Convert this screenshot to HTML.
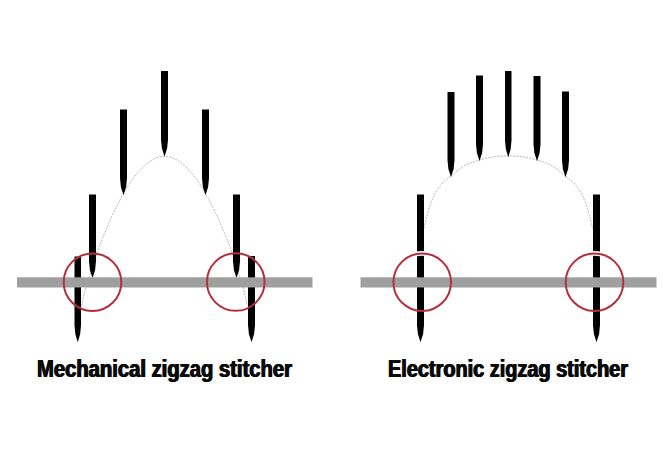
<!DOCTYPE html>
<html><head><meta charset="utf-8"><style>
html,body{margin:0;padding:0;background:#fff;}
body{width:672px;height:450px;position:relative;overflow:hidden;}
.t{position:absolute;font-family:"Liberation Sans",sans-serif;font-weight:bold;color:#0a0a0a;text-shadow:0.7px 0 0 #0a0a0a,-0.7px 0 0 #0a0a0a;white-space:nowrap;transform-origin:0 0;line-height:1;}
</style></head><body>
<svg width="672" height="450" viewBox="0 0 672 450" style="position:absolute;left:0;top:0">
<g fill="none" stroke="#afafaf" stroke-width="0.9" stroke-dasharray="2 1.2">
<path d="M81.70,305.60C82.42,302.55 83.37,296.35 86.00,287.30C88.63,278.25 94.75,259.48 97.50,251.30C100.25,243.12 100.83,242.37 102.50,238.20C104.17,234.03 105.83,230.22 107.50,226.30C109.17,222.38 109.83,220.15 112.50,214.70C115.17,209.25 120.33,199.27 123.50,193.60C126.67,187.93 128.83,184.52 131.50,180.70C134.17,176.88 137.33,173.20 139.50,170.70C141.67,168.20 142.67,167.32 144.50,165.70C146.33,164.08 148.50,162.31 150.50,161.00C152.50,159.69 154.17,158.63 156.50,157.85C158.83,157.07 161.83,156.30 164.50,156.30C167.17,156.30 170.17,157.07 172.50,157.85C174.83,158.63 176.50,159.69 178.50,161.00C180.50,162.31 182.67,164.08 184.50,165.70C186.33,167.32 187.33,168.20 189.50,170.70C191.67,173.20 194.83,176.88 197.50,180.70C200.17,184.52 202.33,187.93 205.50,193.60C208.67,199.27 213.83,209.25 216.50,214.70C219.17,220.15 219.83,222.38 221.50,226.30C223.17,230.22 224.83,234.03 226.50,238.20C228.17,242.37 228.75,243.12 231.50,251.30C234.25,259.48 240.37,278.25 243.00,287.30C245.63,296.35 246.58,302.55 247.30,305.60"/><path d="M423.90,228.20C424.45,226.02 425.86,219.76 427.20,215.10C428.54,210.44 429.86,205.05 431.95,200.25C434.04,195.45 436.55,190.36 439.75,186.30C442.95,182.24 446.92,179.40 451.15,175.90C455.38,172.40 460.40,167.96 465.15,165.30C469.90,162.64 474.80,161.37 479.65,159.95C484.50,158.53 489.48,157.48 494.25,156.80C499.02,156.12 503.58,155.90 508.25,155.90C512.92,155.90 517.48,156.12 522.25,156.80C527.02,157.48 532.00,158.53 536.85,159.95C541.70,161.37 546.60,162.64 551.35,165.30C556.10,167.96 561.12,172.40 565.35,175.90C569.58,179.40 573.55,182.24 576.75,186.30C579.95,190.36 582.46,195.45 584.55,200.25C586.64,205.05 587.96,210.44 589.30,215.10C590.64,219.76 592.05,226.02 592.60,228.20"/></g>
<g fill="#000">
<path d="M74.50,256.50L81.00,256.50L81.00,325.20Q81.00,333.70 77.75,342.20Q74.50,333.70 74.50,325.20Z"/>
<path d="M89.00,194.50L96.00,194.50L96.00,261.20Q96.00,269.70 92.50,278.20Q89.00,269.70 89.00,261.20Z"/>
<path d="M120.00,109.50L127.00,109.50L127.00,178.20Q127.00,186.70 123.50,195.20Q120.00,186.70 120.00,178.20Z"/>
<path d="M161.00,71.00L168.00,71.00L168.00,139.70Q168.00,148.20 164.50,156.70Q161.00,148.20 161.00,139.70Z"/>
<path d="M202.00,109.50L209.00,109.50L209.00,178.20Q209.00,186.70 205.50,195.20Q202.00,186.70 202.00,178.20Z"/>
<path d="M233.00,194.50L240.00,194.50L240.00,261.20Q240.00,269.70 236.50,278.20Q233.00,269.70 233.00,261.20Z"/>
<path d="M248.00,256.00L255.00,256.00L255.00,325.20Q255.00,333.70 251.50,342.20Q248.00,333.70 248.00,325.20Z"/>
<path d="M417.00,194.50L424.00,194.50L424.00,325.20Q424.00,333.70 420.50,342.20Q417.00,333.70 417.00,325.20Z"/>
<path d="M447.50,92.00L454.50,92.00L454.50,160.20Q454.50,168.70 451.00,177.20Q447.50,168.70 447.50,160.20Z"/>
<path d="M476.00,75.50L483.00,75.50L483.00,144.20Q483.00,152.70 479.50,161.20Q476.00,152.70 476.00,144.20Z"/>
<path d="M505.00,71.00L511.50,71.00L511.50,140.20Q511.50,148.70 508.25,157.20Q505.00,148.70 505.00,140.20Z"/>
<path d="M533.50,76.00L540.50,76.00L540.50,144.20Q540.50,152.70 537.00,161.20Q533.50,152.70 533.50,144.20Z"/>
<path d="M562.00,91.50L569.00,91.50L569.00,160.20Q569.00,168.70 565.50,177.20Q562.00,168.70 562.00,160.20Z"/>
<path d="M593.00,194.50L600.00,194.50L600.00,325.20Q600.00,333.70 596.50,342.20Q593.00,333.70 593.00,325.20Z"/>
</g>
<g fill="none" stroke="#fff" stroke-width="4.6">
<path d="M407.80,257.26A28.8,28.8 0 0 1 436.60,257.26"/>
<path d="M580.10,257.26A28.8,28.8 0 0 1 608.90,257.26"/>
</g>
<rect x="17" y="277.3" width="295.5" height="10.2" fill="#9f9f9f"/>
<rect x="360.5" y="277.3" width="296" height="10.2" fill="#9f9f9f"/>
<g fill="none" stroke="#b42e3c" stroke-width="2">
<circle cx="92.5" cy="282.2" r="28.8"/>
<circle cx="235.75" cy="282.0" r="28.8"/>
<circle cx="422.2" cy="282.2" r="28.8"/>
<circle cx="594.5" cy="282.2" r="28.8"/>
</g></svg>
<div class="t" id="t1" style="left:36.6px;top:357.8px;font-size:23.5px;transform:scaleX(0.86)">Mechanical zigzag stitcher</div>
<div class="t" id="t2" style="left:388.1px;top:357.8px;font-size:23.5px;transform:scaleX(0.847)">Electronic zigzag stitcher</div>
</body></html>
